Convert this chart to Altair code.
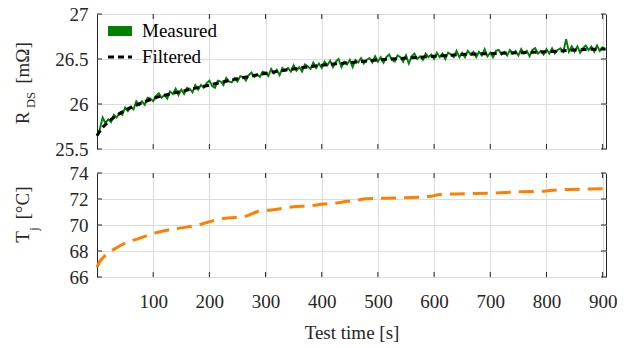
import altair as alt
import pandas as pd

# ---------------- data ----------------
# measured R_DS [mOhm], one sample every 5 s starting at t = 0
r_meas = [
    25.64, 25.72, 25.85, 25.79, 25.83, 25.80, 25.88, 25.85, 25.90, 25.88,
    25.96, 25.92, 25.97, 25.94, 26.03, 25.99, 26.03, 25.99, 26.07, 26.06,
    26.03, 26.09, 26.12, 26.07, 26.10, 26.06, 26.14, 26.11, 26.17, 26.10,
    26.16, 26.11, 26.18, 26.17, 26.13, 26.21, 26.16, 26.21, 26.18, 26.23,
    26.26, 26.20, 26.18, 26.26, 26.25, 26.21, 26.29, 26.25, 26.24, 26.29,
    26.25, 26.31, 26.30, 26.26, 26.32, 26.35, 26.30, 26.33, 26.30, 26.36,
    26.35, 26.31, 26.39, 26.34, 26.38, 26.32, 26.40, 26.37, 26.40, 26.36,
    26.43, 26.37, 26.41, 26.36, 26.44, 26.42, 26.39, 26.46, 26.40, 26.45,
    26.40, 26.47, 26.43, 26.48, 26.41, 26.47, 26.50, 26.41, 26.47, 26.44,
    26.49, 26.41, 26.49, 26.46, 26.51, 26.45, 26.49, 26.51, 26.46, 26.53,
    26.47, 26.52, 26.46, 26.52, 26.55, 26.49, 26.47, 26.54, 26.52, 26.47,
    26.54, 26.45, 26.53, 26.56, 26.50, 26.53, 26.49, 26.56, 26.52, 26.55,
    26.50, 26.57, 26.52, 26.56, 26.50, 26.57, 26.55, 26.52, 26.59, 26.52,
    26.57, 26.52, 26.59, 26.55, 26.58, 26.52, 26.58, 26.54, 26.61, 26.53,
    26.57, 26.52, 26.59, 26.60, 26.55, 26.58, 26.54, 26.60, 26.56, 26.59,
    26.54, 26.61, 26.56, 26.59, 26.53, 26.60, 26.62, 26.56, 26.59, 26.55,
    26.61, 26.56, 26.62, 26.56, 26.60, 26.62, 26.58, 26.72, 26.58, 26.64,
    26.58, 26.64, 26.57, 26.62, 26.65, 26.60, 26.64, 26.58, 26.65, 26.59,
    26.63, 26.60,
]
t_meas = [5 * i for i in range(len(r_meas))]

t_filt = [0, 10, 20, 30, 50, 75, 100, 150, 200, 250, 300, 350, 400, 450,
          500, 550, 600, 650, 700, 750, 800, 850, 900, 905]
r_filt = [25.65, 25.74, 25.80, 25.85, 25.93, 26.00, 26.06, 26.14, 26.21,
          26.28, 26.34, 26.39, 26.43, 26.46, 26.49, 26.51, 26.53, 26.55,
          26.56, 26.57, 26.58, 26.60, 26.61, 26.61]

t_tj = [0, 5, 10, 17, 25, 33, 50, 75, 100, 125, 150, 175, 200, 225, 250,
        260, 290, 310, 350, 380, 400, 430, 445, 460, 480, 550, 595, 610,
        650, 700, 750, 800, 830, 900]
tj = [66.75, 67.2, 67.45, 67.74, 68.0, 68.2, 68.6, 68.97, 69.35, 69.6,
      69.78, 69.95, 70.25, 70.5, 70.6, 70.63, 71.08, 71.15, 71.4, 71.48,
      71.6, 71.72, 71.82, 71.9, 72.02, 72.1, 72.22, 72.34, 72.4, 72.45,
      72.55, 72.62, 72.72, 72.78]

x_ticks = [100, 200, 300, 400, 500, 600, 700, 800, 900]
r_ticks = [25.5, 26, 26.5, 27]
tj_ticks = [66, 68, 70, 72, 74]
legend_labels = ["Measured", "Filtered"]

# ---------------- style ----------------
W, H1, H2 = 509, 135, 104
FONT = "Liberation Serif"
FS = 19
INK = "#262626"
GREEN = "#008000"
ORANGE = "#ff8000"
TICK = 5

xscale = alt.Scale(domain=[0, 906], nice=False, zero=False)
rscale = alt.Scale(domain=[25.5, 27], nice=False, zero=False)
tscale = alt.Scale(domain=[66, 74], nice=False, zero=False)

one = pd.DataFrame({"k": [0]})


def txt(s, x, y, size=FS, angle=0, align="center", baseline="middle"):
    return alt.Chart(one).mark_text(
        text=s, font=FONT, fontSize=size, color=INK if angle else "black",
        angle=angle, align=align, baseline=baseline
    ).encode(x=alt.value(x), y=alt.value(y))


def inner_ticks(yvals, yfield, xenc_fn, yenc_fn, h):
    tx = pd.DataFrame({"t": x_ticks})
    ty = pd.DataFrame({yfield: yvals})
    base_x = alt.Chart(tx).mark_rule(color=INK, strokeWidth=1)
    base_y = alt.Chart(ty).mark_rule(color=INK, strokeWidth=1)
    return [
        base_x.encode(x=xenc_fn(), y=alt.value(0), y2=alt.value(TICK)),
        base_x.encode(x=xenc_fn(), y=alt.value(h - TICK), y2=alt.value(h)),
        base_y.encode(y=yenc_fn(), x=alt.value(0), x2=alt.value(TICK)),
        base_y.encode(y=yenc_fn(), x=alt.value(W - TICK), x2=alt.value(W)),
    ]


# ---------------- top panel ----------------
meas_df = pd.DataFrame({"t": t_meas, "r": r_meas})
filt_df = pd.DataFrame({"t": t_filt, "r": r_filt})


def x_top():
    return alt.X("t:Q", scale=xscale,
                 axis=alt.Axis(values=x_ticks, labels=False, title=None, grid=True))


def y_top():
    return alt.Y("r:Q", scale=rscale,
                 axis=alt.Axis(values=r_ticks, format="~g", title=None, grid=True,
                               labelPadding=9))


meas = alt.Chart(meas_df).mark_line(color=GREEN, strokeWidth=1.9).encode(x=x_top(), y=y_top())
filt = alt.Chart(filt_df).mark_line(color="black", strokeWidth=3, strokeDash=[6, 4],
                                    interpolate="monotone").encode(x=x_top(), y=y_top())

leg_rect = alt.Chart(one).mark_rect(color=GREEN).encode(
    x=alt.value(11), x2=alt.value(35), y=alt.value(12), y2=alt.value(22))
leg_dash = alt.Chart(one).mark_rule(color="black", strokeWidth=3, strokeDash=[6, 4]).encode(
    x=alt.value(11), x2=alt.value(35), y=alt.value(43))

top = alt.layer(
    meas, filt, *inner_ticks(r_ticks, "r", x_top, y_top, H1),
    leg_rect, leg_dash,
    txt(legend_labels[0], 45, 17, align="left"),
    txt(legend_labels[1], 45, 43, align="left"),
    txt("R", -74, 104, angle=270),
    txt("DS", -66, 86, size=12.5, angle=270),
    txt("[mΩ]", -74, 49, angle=270),
).properties(width=W, height=H1)

# ---------------- bottom panel ----------------
tj_df = pd.DataFrame({"t": t_tj, "tj": tj})


def x_bot():
    return alt.X("t:Q", scale=xscale,
                 axis=alt.Axis(values=x_ticks, title="Test time [s]", grid=True,
                               labelPadding=15, titlePadding=12))


def y_bot():
    return alt.Y("tj:Q", scale=tscale,
                 axis=alt.Axis(values=tj_ticks, title=None, grid=True, labelPadding=9))


tj_line = alt.Chart(tj_df).mark_line(color=ORANGE, strokeWidth=3, strokeDash=[15, 8],
                                     interpolate="monotone").encode(x=x_bot(), y=y_bot())

bottom = alt.layer(
    tj_line, *inner_ticks(tj_ticks, "tj", x_bot, y_bot, H2),
    txt("T", -74, 64, angle=270),
    txt("j", -63, 56, size=12.5, angle=270),
    txt("[°C]", -74, 30, angle=270),
).properties(width=W, height=H2)

chart = alt.vconcat(top, bottom, spacing=24, bounds="flush").properties(
    padding={"left": 13, "top": 4, "right": 20, "bottom": 8}
).configure_view(
    stroke=INK, strokeWidth=1
).configure_axis(
    labelFont=FONT, labelFontSize=FS, labelColor=INK,
    titleFont=FONT, titleFontSize=FS, titleColor=INK, titleFontWeight="normal",
    gridColor="#dcdcdc", gridWidth=1, ticks=False, tickSize=0, domain=False,
)

chart.save("out.html", embed_options={"renderer": "svg", "actions": False})
